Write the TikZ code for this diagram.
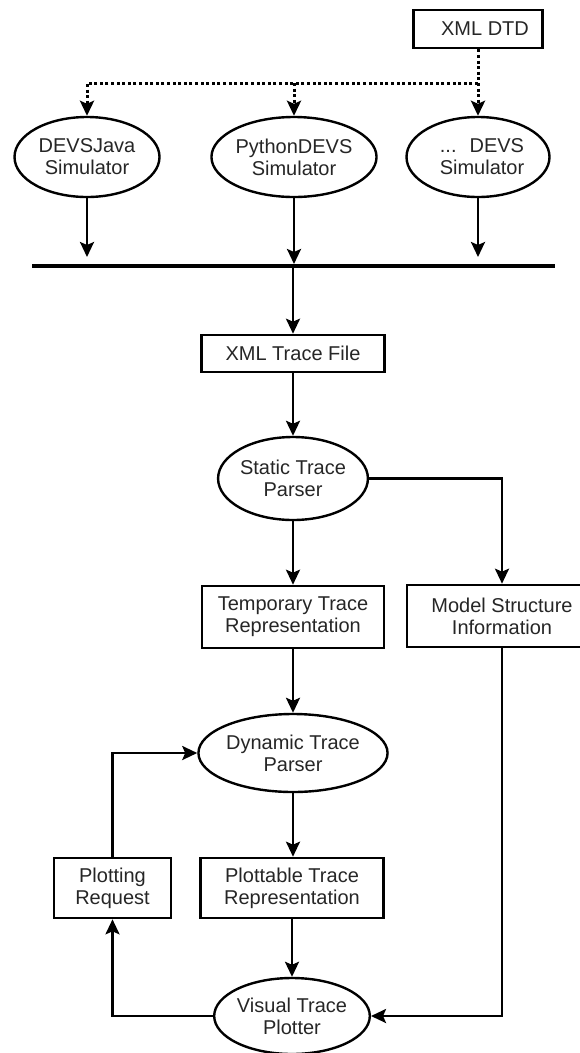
\documentclass[tikz,border=0pt]{standalone}
\usepackage{fontspec}
\setmainfont{Liberation Sans}
\usetikzlibrary{arrows.meta,shapes.geometric}
\begin{document}
\begin{tikzpicture}[x=1pt,y=-1pt,
  every node/.style={font=\fontsize{20}{22}\selectfont, text=black!85, align=center},
  boxn/.style={draw, line width=2.6pt, rectangle, inner sep=0pt},
  elln/.style={draw, line width=2.4pt, ellipse, inner sep=0pt},
  arr/.style={line width=2.6pt, -{Stealth[length=15pt,width=14pt,inset=3pt]}},
  dotarr/.style={line width=3pt, dash pattern=on 3pt off 2.6pt, -{Stealth[length=15pt,width=14pt,inset=3pt]}},
]
\useasboundingbox (0,0) rectangle (579,1053);

% top row
\node[boxn, minimum width=129pt, minimum height=38pt] (dtd) at (478,29) {\hspace*{14pt}XML DTD};
\node[elln, minimum width=145pt, minimum height=80pt] (sj) at (87,157) {DEVSJava\\Simulator};
\node[elln, minimum width=144pt, minimum height=80pt] (sp) at (294,157) {PythonDEVS\\Simulator};
\node[elln, minimum width=143pt, minimum height=80pt] (sd) at (478,157) {\hspace*{8pt}...\hspace{13pt}DEVS\\\hspace*{8pt}Simulator};

\coordinate (dj) at (478,83);
\coordinate (dm) at (294,83);
\draw[dotarr] (dtd.south) -- (sd.north);
\draw[dotarr] (dj) -| (sj.north);
\draw[dotarr] (dm) -- (sp.north);

% bus
\coordinate (busL) at (32,266);
\coordinate (busR) at (555,266);
\draw[line width=4pt] (busL) -- (busR);
\coordinate (t1) at (87,257);
\coordinate (t2) at (294,264);
\coordinate (t3) at (478,257);
\draw[arr] (sj.south) -- (t1);
\draw[arr] (sp.south) -- (t2);
\draw[arr] (sd.south) -- (t3);
\coordinate (bm) at (293,266);

% main column
\node[boxn, minimum width=183pt, minimum height=37pt] (xtf) at (293,353.5) {XML Trace File};
\node[elln, minimum width=143pt, minimum height=83pt] (st) at (293,478.5) {Static Trace\\Parser};
\node[boxn, minimum width=182pt, minimum height=62pt] (tmp) at (293,617) {Temporary Trace\\Representation};
\node[boxn, minimum width=190pt, minimum height=62pt] (ms) at (502,616) {Model Structure\\Information};
\node[elln, minimum width=157pt, minimum height=78pt] (dyn) at (293,753) {Dynamic Trace\\Parser};
\node[boxn, minimum width=183pt, minimum height=60pt] (plot) at (292,888) {Plottable Trace\\Representation};
\node[boxn, minimum width=117pt, minimum height=60pt] (pr) at (112.5,888) {Plotting\\Request};
\node[elln, minimum width=143pt, minimum height=76pt] (vis) at (292,1016) {Visual Trace\\Plotter};

\draw[arr] (bm) -- (xtf.north);
\draw[arr] (xtf.south) -- (st.north);
\draw[arr] (st.south) -- (tmp.north);
\draw[arr] (st.east) -| (ms.north);
\draw[arr] (tmp.south) -- (dyn.north);
\draw[arr] (dyn.south) -- (dyn.south |- plot.north);
\draw[arr] (plot.south) -- (vis.north);
\draw[arr] (ms.south) |- (vis.east);
\draw[arr] (vis.west) -| (pr.south);
\draw[arr] (pr.north) |- (dyn.west);
\end{tikzpicture}
\end{document}
